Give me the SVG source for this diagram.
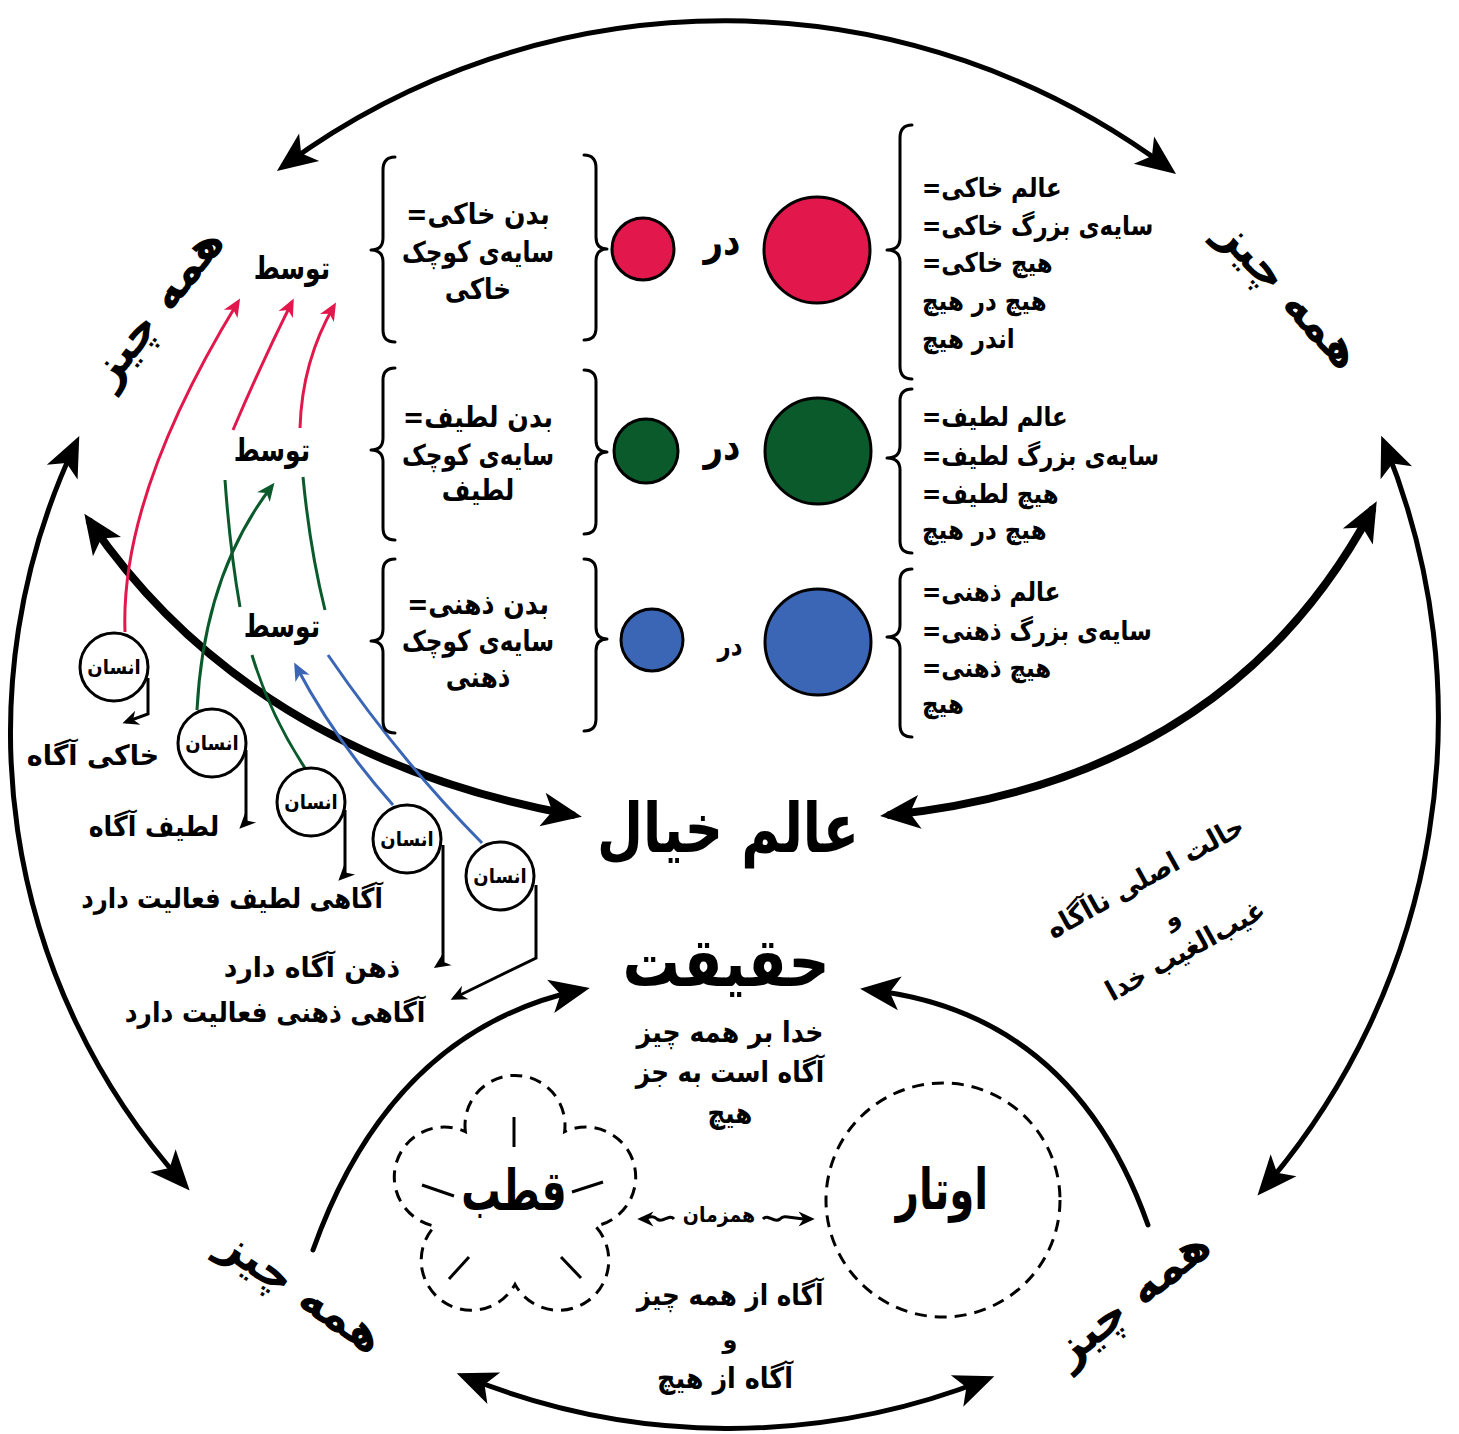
<svg xmlns="http://www.w3.org/2000/svg" width="1459" height="1434" viewBox="0 0 1459 1434">
<style>
.t{font-family:"DejaVu Sans",sans-serif;font-weight:bold;fill:#000;text-anchor:middle;dominant-baseline:central;direction:rtl}
.r{text-anchor:end}
.big{fill:none;stroke:#000;stroke-width:5;stroke-linecap:round}
.thick{fill:none;stroke:#000;stroke-width:8;stroke-linecap:round}
.br{fill:none;stroke:#000;stroke-width:3;stroke-linecap:round;stroke-linejoin:round}
.pk{fill:none;stroke:#e2184c;stroke-width:3}
.gr{fill:none;stroke:#0b5a2c;stroke-width:3}
.bl{fill:none;stroke:#3a66b5;stroke-width:3}
.cn{fill:none;stroke:#000;stroke-width:3}
.hc{fill:#fff;stroke:#000;stroke-width:3}
.dash{fill:none;stroke:#000;stroke-width:3;stroke-dasharray:12 8}
</style>
<defs>
<marker id="ab" markerUnits="userSpaceOnUse" markerWidth="60" markerHeight="60" viewBox="-40 -25 60 50" refX="0" refY="0" orient="auto-start-reverse" overflow="visible">
<path d="M10,0 L-30,-17 L-20,0 L-30,17 Z" fill="#000"/>
</marker>
<marker id="ap" markerUnits="userSpaceOnUse" markerWidth="30" markerHeight="30" viewBox="-20 -10 30 20" refX="0" refY="0" orient="auto" overflow="visible">
<path d="M4,0 L-14,-8 L-9,0 L-14,8 Z" fill="#e2184c"/>
</marker>
<marker id="ag" markerUnits="userSpaceOnUse" markerWidth="30" markerHeight="30" viewBox="-20 -10 30 20" refX="0" refY="0" orient="auto" overflow="visible">
<path d="M4,0 L-14,-8 L-9,0 L-14,8 Z" fill="#0b5a2c"/>
</marker>
<marker id="abl" markerUnits="userSpaceOnUse" markerWidth="30" markerHeight="30" viewBox="-20 -10 30 20" refX="0" refY="0" orient="auto" overflow="visible">
<path d="M4,0 L-14,-8 L-9,0 L-14,8 Z" fill="#3a66b5"/>
</marker>
<marker id="as" markerUnits="userSpaceOnUse" markerWidth="20" markerHeight="20" viewBox="-12 -8 16 16" refX="0" refY="0" orient="auto" overflow="visible">
<path d="M3,0 L-10,-6 L-6,0 L-10,6 Z" fill="#000"/>
</marker>
</defs>

<g id="connectors">
<path class="big" d="M285,165 A742,742 0 0 1 1168,168" marker-start="url(#ab)" marker-end="url(#ab)"/>
<path class="big" d="M75,445 A674,674 0 0 0 183,1183" marker-start="url(#ab)" marker-end="url(#ab)"/>
<path class="big" d="M1385,445 A722,722 0 0 1 1264,1188" marker-start="url(#ab)" marker-end="url(#ab)"/>
<path class="big" d="M466,1377 A700,700 0 0 0 985,1380" marker-start="url(#ab)" marker-end="url(#ab)"/>
<path class="thick" d="M90,522 Q250,755 572,815" marker-start="url(#ab)" marker-end="url(#ab)"/>
<path class="thick" d="M1372,510 Q1227,780 890,815" marker-start="url(#ab)" marker-end="url(#ab)"/>
<path class="big" d="M313,1250 Q391,1031 580,990" marker-end="url(#ab)"/>
<path class="big" d="M1148,1225 Q1073,1013 870,990" marker-end="url(#ab)"/>
<path class="pk" d="M125,632 Q120,495 238,302" marker-end="url(#ap)"/>
<path class="pk" d="M233,430 Q262,362 292,302" marker-end="url(#ap)"/>
<path class="pk" d="M300,428 Q302,361 334,306" marker-end="url(#ap)"/>
<path class="gr" d="M197,710 Q204,574 272,486" marker-end="url(#ag)"/>
<path class="gr" d="M225,480 Q230,550 240,607"/>
<path class="gr" d="M303,477 Q310,550 325,610"/>
<path class="gr" d="M252,655 Q270,715 305,768"/>
<path class="bl" d="M393,805 Q335,740 296,666" marker-end="url(#abl)"/>
<path class="bl" d="M482,843 Q400,760 328,655"/>
<path class="cn" d="M148,678 V714 L126,722" marker-end="url(#as)"/>
<path class="cn" d="M246,750 V822 L242,826" marker-end="url(#as)"/>
<path class="cn" d="M345,810 V874 L341,878" marker-end="url(#as)"/>
<path class="cn" d="M443,845 V962 L437,966" marker-end="url(#as)"/>
<path class="cn" d="M536,885 V958 L454,998" marker-end="url(#as)"/>
<path class="cn" stroke-width="2" d="M674,1219 c-5,-6 -11,5 -17,0 c-5,-5 -10,0 -16,0" marker-end="url(#as)"/>
<path class="cn" stroke-width="2" d="M763,1219 c5,-6 11,5 17,0 c5,-5 10,0 31,0" marker-end="url(#as)"/>
</g>

<g id="corner-labels">
<text class="t" font-size="46" transform="translate(156,306) rotate(-52)">همه چیز</text>
<text class="t" font-size="46" transform="translate(1290,293) rotate(47)">همه چیز</text>
<text class="t" font-size="46" transform="translate(302,1290) rotate(34)">همه چیز</text>
<text class="t" font-size="46" transform="translate(1131,1297) rotate(-39)">همه چیز</text>
</g>

<g id="tavassot">
<text class="t" font-size="32" transform="translate(292,268) scale(0.78,1)">توسط</text>
<text class="t" font-size="32" transform="translate(272,450) scale(0.78,1)">توسط</text>
<text class="t" font-size="32" transform="translate(282,626) scale(0.78,1)">توسط</text>
</g>

<g id="insan1"><circle class="hc" cx="114" cy="667" r="34"/><text class="t" font-size="20" transform="translate(114,667) scale(0.9,1)">انسان</text></g>
<g id="insan2"><circle class="hc" cx="212" cy="743" r="34"/><text class="t" font-size="20" transform="translate(212,743) scale(0.9,1)">انسان</text></g>
<g id="insan3"><circle class="hc" cx="311" cy="802" r="34"/><text class="t" font-size="20" transform="translate(311,802) scale(0.9,1)">انسان</text></g>
<g id="insan4"><circle class="hc" cx="407" cy="839" r="34"/><text class="t" font-size="20" transform="translate(407,839) scale(0.9,1)">انسان</text></g>
<g id="insan5"><circle class="hc" cx="500" cy="876" r="34"/><text class="t" font-size="20" transform="translate(500,876) scale(0.9,1)">انسان</text></g>

<g id="aware-labels">
<text class="t" font-size="28" transform="translate(93,755) scale(0.96,1)">خاکی آگاه</text>
<text class="t" font-size="28" transform="translate(154,826) scale(0.9,1)">لطیف آگاه</text>
<text class="t" font-size="28" transform="translate(232,898) scale(0.87,1)">آگاهی لطیف فعالیت دارد</text>
<text class="t" font-size="28" transform="translate(312,967) scale(0.95,1)">ذهن آگاه دارد</text>
<text class="t" font-size="28" transform="translate(275,1012) scale(0.89,1)">آگاهی ذهنی فعالیت دارد</text>
</g>

<g id="row-khaki">
<path class="br" d="M395,157 Q383,157 383,170 L383,238 Q383,250 371,250 Q383,250 383,262 L383,330 Q383,342 395,342"/>
<text class="t" font-size="29" transform="translate(478,214) scale(0.87,1)">بدن خاکی=</text>
<text class="t" font-size="29" transform="translate(478,252) scale(0.8,1)">سایه&#x200C;ی کوچک</text>
<text class="t" font-size="29" transform="translate(478,289) scale(0.85,1)">خاکی</text>
<path class="br" d="M584,155 Q596,155 596,168 L596,237 Q596,249 607,249 Q596,249 596,261 L596,328 Q596,340 584,340"/>
<circle cx="643" cy="249" r="31" fill="#e2184c" stroke="#000" stroke-width="3"/>
<text class="t" font-size="40" transform="translate(722,242) scale(0.85,1)">در</text>
<circle cx="817" cy="250" r="53" fill="#e2184c" stroke="#000" stroke-width="3"/>
<path class="br" d="M912,125 Q900,125 900,138 L900,238 Q900,250 887,250 Q900,250 900,262 L900,366 Q900,379 912,379"/>
<text class="t r" font-size="27" transform="translate(922,188) scale(0.85,1)">عالم خاکی=</text>
<text class="t r" font-size="27" transform="translate(922,226) scale(0.85,1)">سایه&#x200C;ی بزرگ خاکی=</text>
<text class="t r" font-size="27" transform="translate(922,263) scale(0.85,1)">هیچ خاکی=</text>
<text class="t r" font-size="27" transform="translate(922,301) scale(0.85,1)">هیچ در هیچ</text>
<text class="t r" font-size="27" transform="translate(922,339) scale(0.85,1)">اندر هیچ</text>
</g>

<g id="row-latif">
<path class="br" d="M395,368 Q383,368 383,380 L383,438 Q383,450 371,450 Q383,450 383,462 L383,528 Q383,540 395,540"/>
<text class="t" font-size="29" transform="translate(478,417) scale(0.87,1)">بدن لطیف=</text>
<text class="t" font-size="29" transform="translate(478,455) scale(0.8,1)">سایه&#x200C;ی کوچک</text>
<text class="t" font-size="29" transform="translate(478,490) scale(0.85,1)">لطیف</text>
<path class="br" d="M584,370 Q596,370 596,382 L596,440 Q596,452 607,452 Q596,452 596,464 L596,522 Q596,534 584,534"/>
<circle cx="646" cy="451" r="32" fill="#0b5a2c" stroke="#000" stroke-width="3"/>
<text class="t" font-size="40" transform="translate(722,447) scale(0.85,1)">در</text>
<circle cx="818" cy="451" r="53" fill="#0b5a2c" stroke="#000" stroke-width="3"/>
<path class="br" d="M912,389 Q900,389 900,401 L900,446 Q900,458 887,458 Q900,458 900,470 L900,541 Q900,553 912,553"/>
<text class="t r" font-size="27" transform="translate(922,417) scale(0.85,1)">عالم لطیف=</text>
<text class="t r" font-size="27" transform="translate(922,456) scale(0.85,1)">سایه&#x200C;ی بزرگ لطیف=</text>
<text class="t r" font-size="27" transform="translate(922,494) scale(0.85,1)">هیچ لطیف=</text>
<text class="t r" font-size="27" transform="translate(922,530) scale(0.85,1)">هیچ در هیچ</text>
</g>

<g id="row-zehni">
<path class="br" d="M395,559 Q383,559 383,571 L383,629 Q383,641 371,641 Q383,641 383,653 L383,721 Q383,733 395,733"/>
<text class="t" font-size="29" transform="translate(478,604) scale(0.87,1)">بدن ذهنی=</text>
<text class="t" font-size="29" transform="translate(478,641) scale(0.8,1)">سایه&#x200C;ی کوچک</text>
<text class="t" font-size="29" transform="translate(478,677) scale(0.85,1)">ذهنی</text>
<path class="br" d="M584,559 Q596,559 596,571 L596,627 Q596,639 607,639 Q596,639 596,651 L596,719 Q596,731 584,731"/>
<circle cx="652" cy="640" r="31" fill="#3a66b5" stroke="#000" stroke-width="3"/>
<text class="t" font-size="27" transform="translate(730,646) scale(0.85,1)">در</text>
<circle cx="818" cy="642" r="53" fill="#3a66b5" stroke="#000" stroke-width="3"/>
<path class="br" d="M912,569 Q900,569 900,581 L900,625 Q900,637 887,637 Q900,637 900,649 L900,725 Q900,737 912,737"/>
<text class="t r" font-size="27" transform="translate(922,592) scale(0.85,1)">عالم ذهنی=</text>
<text class="t r" font-size="27" transform="translate(922,631) scale(0.85,1)">سایه&#x200C;ی بزرگ ذهنی=</text>
<text class="t r" font-size="27" transform="translate(922,668) scale(0.85,1)">هیچ ذهنی=</text>
<text class="t r" font-size="27" transform="translate(922,704) scale(0.85,1)">هیچ</text>
</g>

<g id="alam-khial"><text class="t" font-size="68" transform="translate(728,828) scale(0.78,1)">عالم خیال</text></g>

<g id="haghighat">
<text class="t" font-size="68" transform="translate(726,963) scale(0.84,1)">حقیقت</text>
<text class="t" font-size="29" transform="translate(730,1032) scale(0.87,1)">خدا بر همه چیز</text>
<text class="t" font-size="29" transform="translate(730,1072) scale(0.85,1)">آگاه است به جز</text>
<text class="t" font-size="29" transform="translate(730,1113) scale(0.85,1)">هیچ</text>
</g>

<g id="ghayb">
<text class="t" font-size="28" transform="translate(1145,877) rotate(-29) scale(0.92,1)">حالت اصلی ناآگاه</text>
<text class="t" font-size="24" transform="translate(1172,918) rotate(-29)">و</text>
<text class="t" font-size="28" transform="translate(1185,950) rotate(-29) scale(0.92,1)">غیب&#x200C;الغیب خدا</text>
</g>

<g id="ghotb">
<path class="dash" d="M465.4,1131.7 A50,50 0 1 1 564.6,1131.7 A50,50 0 1 1 595.3,1226.1 A50,50 0 1 1 515,1284.4 A50,50 0 1 1 434.7,1226.1 A50,50 0 1 1 465.4,1131.7 Z"/>
<path class="cn" d="M514,1117 V1147 M422,1185 L454,1196 M572,1192 L603,1182 M469,1257 L449,1279 M561,1257 L581,1278"/>
<text class="t" font-size="56" transform="translate(514,1190) scale(0.7,1)">قطب</text>
</g>

<g id="owtar">
<circle class="dash" cx="943" cy="1200" r="117"/>
<text class="t" font-size="56" transform="translate(942,1190) scale(0.72,1)">اوتار</text>
</g>

<g id="hamzaman"><text class="t" font-size="21" transform="translate(719,1215) scale(0.9,1)">همزمان</text></g>

<g id="agah">
<text class="t" font-size="29" transform="translate(730,1295) scale(0.85,1)">آگاه از همه چیز</text>
<text class="t" font-size="24" x="730" y="1340">و</text>
<text class="t" font-size="29" transform="translate(725,1378) scale(0.88,1)">آگاه از هیچ</text>
</g>
</svg>
